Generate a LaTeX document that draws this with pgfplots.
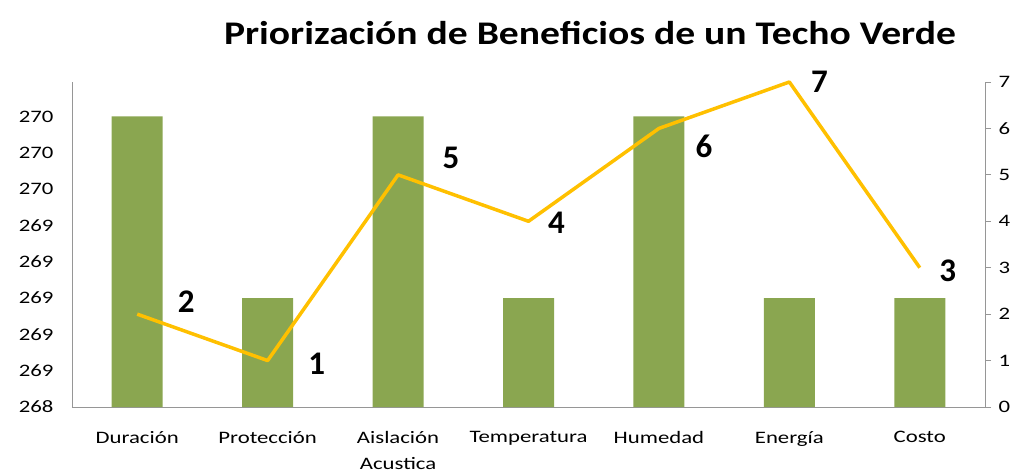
\documentclass[border=0pt]{standalone}
\usepackage{fontspec}
\setmainfont{Carlito}[FakeStretch=1.3]
\newfontfamily\titlefont{Carlito}[FakeStretch=1.2]
\newfontfamily\labelfont{Carlito}
\usepackage{pgfplots}
\pgfplotsset{compat=1.18}
\definecolor{barra}{RGB}{138,166,80}
\definecolor{linea}{RGB}{255,192,0}
\definecolor{eje}{RGB}{150,150,150}

\begin{document}
\begin{tikzpicture}
  \path[use as bounding box] (-72bp,-65bp) rectangle (949bp,407bp);
  % barras, eje izquierdo
  \begin{axis}[
    at={(0,0)}, anchor=south west,
    width=913bp, height=325bp, scale only axis,
    xmin=-0.5, xmax=6.5,
    ymin=268.4, ymax=270.19,
    axis x line*=bottom, axis y line*=left,
    axis line style={eje, line width=0.8bp},
    every outer x axis line/.append style={-},
    every outer y axis line/.append style={-},
    xtick={0,...,6},
    xticklabels={Duración, Protección, {Aislación\\Acustica}, Temperatura, Humedad, Energía, Costo},
    xticklabel style={align=center, font=\fontsize{17.5bp}{26bp}\selectfont, yshift=-21bp},
    ytick={268.4,268.6,268.8,269.0,269.2,269.4,269.6,269.8,270.0},
    yticklabels={268,269,269,269,269,269,270,270,270},
    yticklabel style={font=\fontsize{17.5bp}{20bp}\selectfont, xshift=-15bp},
    major tick length=0pt,
    ybar, bar width=51bp, bar shift=0pt,
  ]
  \addplot[fill=barra, draw=none] coordinates {
    (0,270.0) (1,269.0) (2,270.0) (3,269.0) (4,270.0) (5,269.0) (6,269.0)
  };
  \end{axis}
  % linea, eje derecho
  \begin{axis}[
    at={(0,0)}, anchor=south west,
    width=913bp, height=325bp, scale only axis,
    xmin=-0.5, xmax=6.5,
    ymin=0, ymax=7,
    axis x line=none, axis y line*=right,
    axis line style={eje, line width=0.8bp},
    every outer y axis line/.append style={-},
    ytick={0,...,7},
    /pgf/number format/assume math mode=true,
    yticklabel style={font=\fontsize{17.5bp}{20bp}\selectfont, xshift=4bp},
    ytick style={eje, line width=0.8bp},
    tick align=outside, major tick length=6bp,
    clip=false,
  ]
  \addplot[linea, line width=3.5bp, line join=round] coordinates {
    (0,2) (1,1) (2,5) (3,4) (4,6) (5,7) (6,3)
  };
  \begin{scope}[every node/.style={font=\labelfont\fontsize{33bp}{33bp}\selectfont\bfseries}]
    \node at (axis cs:0,2) [xshift=49bp, yshift=12bp] {2};
    \node at (axis cs:1,1) [xshift=49bp, yshift=-3bp] {1};
    \node at (axis cs:2,5) [xshift=53bp, yshift=17bp] {5};
    \node at (axis cs:3,4) [xshift=28bp, yshift=-2bp] {4};
    \node at (axis cs:4,6) [xshift=45bp, yshift=-18bp] {6};
    \node at (axis cs:5,7) [xshift=30bp, yshift=0bp] {7};
    \node at (axis cs:6,3) [xshift=28bp, yshift=-3bp] {3};
  \end{scope}
  \end{axis}
  \node[font=\titlefont\fontsize{33bp}{33bp}\selectfont\bfseries] at (518bp,374bp)
    {Priorización de Beneficios de un Techo Verde};
\end{tikzpicture}
\end{document}
